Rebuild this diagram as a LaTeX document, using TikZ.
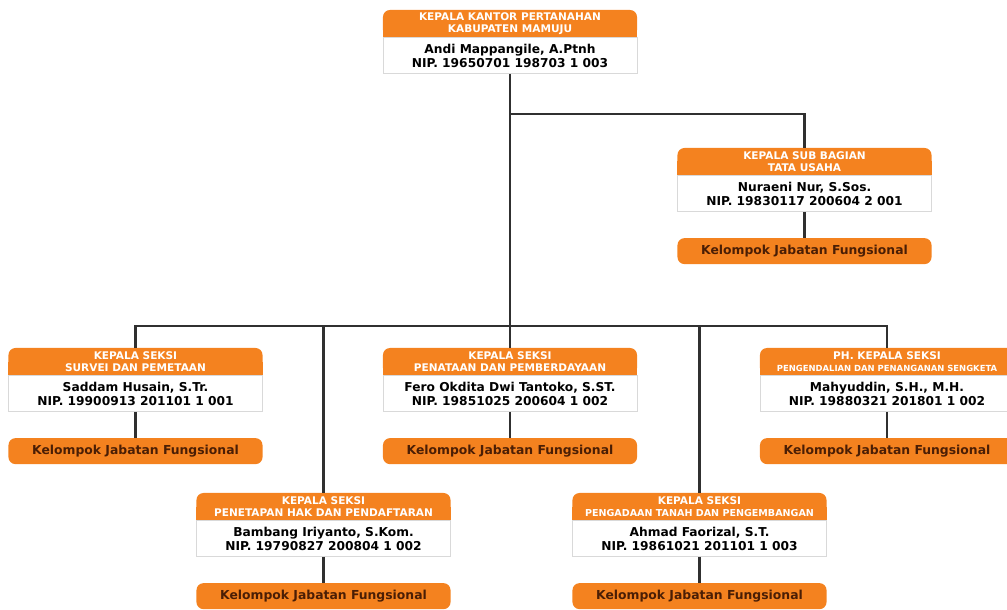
\documentclass[tikz,border=0pt]{standalone}
\usepackage{fontspec}
\setmainfont{DejaVu Sans}
\usetikzlibrary{positioning,backgrounds}
\definecolor{oranye}{HTML}{F4821F}
\definecolor{coklat}{HTML}{4A1E05}
\definecolor{garis}{HTML}{303030}
\tikzset{
  kepala/.style={fill=oranye, rounded corners=5pt, text=white, align=center,
    minimum width=6.35cm, minimum height=0.675cm, inner sep=1pt,
    font=\fontsize{7.5}{8.4}\selectfont\bfseries},
  isi/.style={fill=white, draw=black!15, align=center, below=0pt of #1,
    minimum width=6.35cm, minimum height=0.9cm, inner sep=1pt,
    font=\fontsize{8.7}{9.8}\selectfont\bfseries},
  kelompok/.style={fill=oranye, rounded corners=5pt, text=coklat, below=0.65cm of #1,
    minimum width=6.35cm, minimum height=0.65cm, inner sep=1pt,
    font=\fontsize{8.8}{10}\selectfont\bfseries},
  hubung/.style={draw=garis, line width=1.6pt}
}
\begin{document}
\begin{tikzpicture}[x=0.025cm, y=-0.025cm]
  \useasboundingbox (0,0) rectangle (1007,610);
  \clip (0,0) rectangle (1007,610);
  \coordinate (cab) at (510,114);
  \coordinate (bus) at (510,326);

  \node[kepala] (kh) at (510,23.5) {KEPALA KANTOR PERTANAHAN\\KABUPATEN MAMUJU};
  \node[isi=kh] (kb) {Andi Mappangile, A.Ptnh\\NIP. 19650701 198703 1 003};

  \node[kepala] (th) at (804.5,161.5) {KEPALA SUB BAGIAN\\TATA USAHA};
  \node[isi=th] (tb) {Nuraeni Nur, S.Sos.\\NIP. 19830117 200604 2 001};
  \node[kelompok=tb] (tk) {Kelompok Jabatan Fungsional};

  \node[kepala] (sh) at (135.5,361.5) {KEPALA SEKSI\\SURVEI DAN PEMETAAN};
  \node[isi=sh] (sb) {Saddam Husain, S.Tr.\\NIP. 19900913 201101 1 001};
  \node[kelompok=sb] (sk) {Kelompok Jabatan Fungsional};

  \node[kepala] (ph) at (510,361.5) {KEPALA SEKSI\\PENATAAN DAN PEMBERDAYAAN};
  \node[isi=ph] (pb) {Fero Okdita Dwi Tantoko, S.ST.\\NIP. 19851025 200604 1 002};
  \node[kelompok=pb] (pk) {Kelompok Jabatan Fungsional};

  \node[kepala] (gh) at (887,361.5) {PH. KEPALA SEKSI\\{\fontsize{6}{8.4}\selectfont PENGENDALIAN DAN PENANGANAN SENGKETA}};
  \node[isi=gh] (gb) {Mahyuddin, S.H., M.H.\\NIP. 19880321 201801 1 002};
  \node[kelompok=gb] (gk) {Kelompok Jabatan Fungsional};

  \node[kepala] (hh) at (323.5,506.5) {KEPALA SEKSI\\PENETAPAN HAK DAN PENDAFTARAN};
  \node[isi=hh] (hb) {Bambang Iriyanto, S.Kom.\\NIP. 19790827 200804 1 002};
  \node[kelompok=hb] (hk) {Kelompok Jabatan Fungsional};

  \node[kepala] (ah) at (699.5,506.5) {KEPALA SEKSI\\{\fontsize{6.8}{8.4}\selectfont PENGADAAN TANAH DAN PENGEMBANGAN}};
  \node[isi=ah] (ab) {Ahmad Faorizal, S.T.\\NIP. 19861021 201101 1 003};
  \node[kelompok=ab] (ak) {Kelompok Jabatan Fungsional};

  \begin{scope}[on background layer]
    \foreach \n in {kh,th,sh,ph,gh,hh,ah}
      \fill[oranye] (\n.west) rectangle (\n.south east);
  \end{scope}

  \draw[hubung] (kb) -- (bus);
  \draw[hubung] (cab) -| (th.north);
  \foreach \n in {sh,ph,gh,hh,ah}
    \draw[hubung] (bus) -| (\n.north);
  \foreach \a/\b in {tb/tk,sb/sk,pb/pk,gb/gk,hb/hk,ab/ak}
    \draw[hubung] (\a) -- (\b);
\end{tikzpicture}
\end{document}
